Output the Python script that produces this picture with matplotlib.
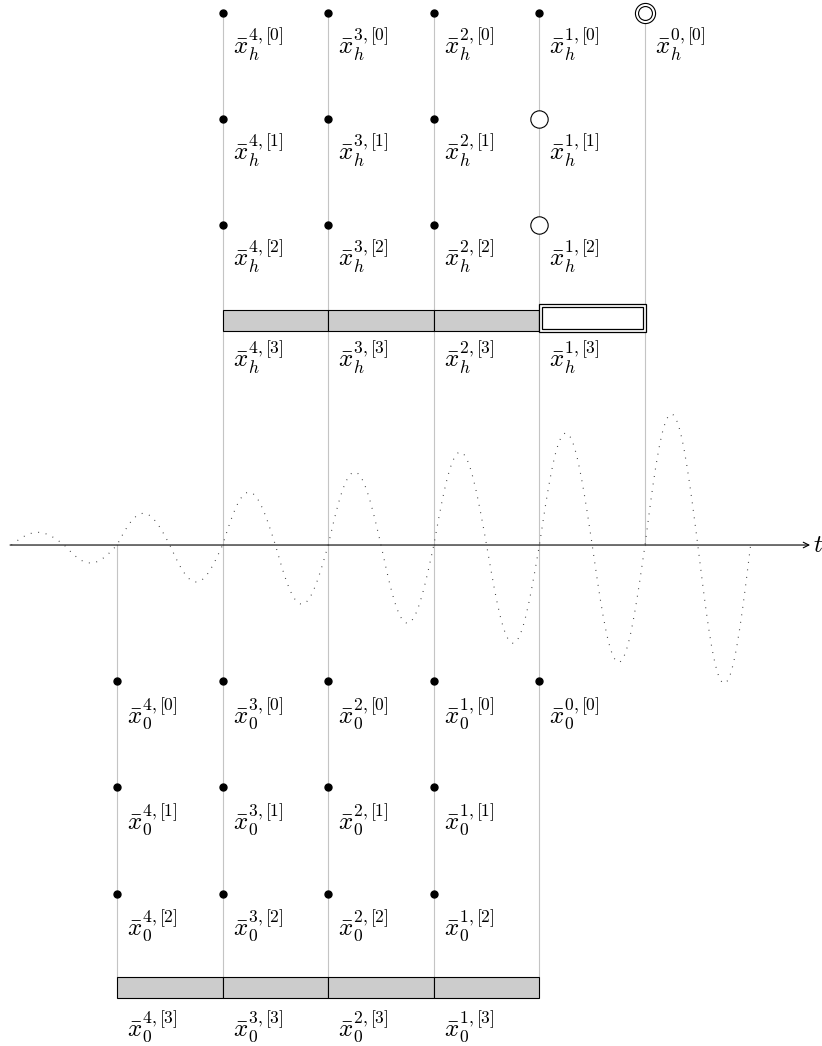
import numpy as np
import matplotlib.pyplot as plt
from matplotlib.patches import Rectangle

plt.rcParams['mathtext.fontset'] = 'cm'

# grid columns (time steps) and their stage superscripts
top_steps = [1, 2, 3, 4, 5]
top_stage = [4, 3, 2, 1, 0]
bot_steps = [0, 1, 2, 3, 4]
bot_stage = [4, 3, 2, 1, 0]
n_rows = 3  # rows [0], [1], [2]; row [3] is the bar

# open (not yet computed) markers in the top group: (stage, row)
open_cells = [(1, 1), (1, 2)]
double_cells = [(0, 0)]
open_bar_stage = [1]

wave_start = -1.0
wave_half = 0.5
wave_amp = [0.12, 0.17, 0.30, 0.35, 0.50, 0.56, 0.69, 0.74,
            0.88, 0.93, 1.06, 1.11, 1.24, 1.31]

# layout (data units = one time step)
top_y0, row_gap = 5.04, 1.005
top_bar = (2.027, 2.225)
top_bar_lab = 1.78
bot_y0 = -1.29
bot_bar = (-4.29, -4.09)
bot_bar_lab = -4.555
lab_dx, lab_dy = 0.095, 0.30
fs = 18

fig = plt.figure(figsize=(8.22, 10.46), dpi=100)
ax = fig.add_axes([0, 0, 1, 1])
ax.set_xlim(-1.108, 6.676)
ax.set_ylim(-4.744, 5.161)
ax.axis('off')

grey = '#c4c4c4'

# ---- top group (h) ----
for t, s in zip(top_steps, top_stage):
    ax.plot([t, t], [top_y0, 0], color=grey, lw=0.8, zorder=1)
    rows = 1 if s == 0 else n_rows
    for j in range(rows):
        y = top_y0 - j * row_gap
        if (s, j) in double_cells:
            ax.plot(t, y, 'o', ms=14.5, mfc='white', mec='black', mew=0.8, zorder=3)
            ax.plot(t, y, 'o', ms=10, mfc='white', mec='black', mew=0.8, zorder=4)
        elif (s, j) in open_cells:
            ax.plot(t, y, 'o', ms=12.5, mfc='white', mec='black', mew=0.8, zorder=3)
        else:
            ax.plot(t, y, 'o', ms=5, color='black', zorder=3)
        ax.text(t + lab_dx, y - lab_dy, r'$\bar{x}_h^{%d,[%d]}$' % (s, j),
                fontsize=fs, ha='left', va='center')
    if s > 0:
        if s in open_bar_stage:
            # double-bordered empty cell
            for inset in (0.0, 0.03):
                ax.add_patch(Rectangle((t - 0.005 + inset, top_bar[0] - 0.01 + inset),
                                       1.015 - 2 * inset, top_bar[1] - top_bar[0] + 0.065 - 2 * inset,
                                       facecolor='white', edgecolor='black', lw=0.9, zorder=2))
        else:
            ax.add_patch(Rectangle((t, top_bar[0]), 1, top_bar[1] - top_bar[0],
                                   facecolor='#cccccc', edgecolor='black', lw=0.8, zorder=2))
        ax.text(t + lab_dx, top_bar_lab, r'$\bar{x}_h^{%d,[3]}$' % s,
                fontsize=fs, ha='left', va='center')

# ---- bottom group (0) ----
for t, s in zip(bot_steps, bot_stage):
    ax.plot([t, t], [0, bot_bar[1]], color=grey, lw=0.8, zorder=1)
    rows = 1 if s == 0 else n_rows
    for j in range(rows):
        y = bot_y0 - j * row_gap
        ax.plot(t, y, 'o', ms=5, color='black', zorder=3)
        ax.text(t + lab_dx, y - lab_dy, r'$\bar{x}_0^{%d,[%d]}$' % (s, j),
                fontsize=fs, ha='left', va='center')
    if s > 0:
        ax.add_patch(Rectangle((t, bot_bar[0]), 1, bot_bar[1] - bot_bar[0],
                               facecolor='#cccccc', edgecolor='black', lw=0.8, zorder=2))
        ax.text(t + lab_dx, bot_bar_lab, r'$\bar{x}_0^{%d,[3]}$' % s,
                fontsize=fs, ha='left', va='center')

# ---- time axis ----
ax.annotate('', xy=(6.563, 0), xytext=(-1.013, 0),
            arrowprops=dict(arrowstyle='->', lw=0.8, color='black',
                            shrinkA=0, shrinkB=0), zorder=2)
ax.text(6.64, 0, r'$t$', fontsize=fs, ha='center', va='center')

# ---- oscillating signal, one half-wave per amplitude ----
xs, ys = [], []
for k, a in enumerate(wave_amp):
    t0 = wave_start + k * wave_half
    tt = np.linspace(t0, t0 + wave_half, 40)
    sign = 1 if k % 2 == 0 else -1
    xs.append(tt)
    ys.append(sign * a * np.sin(np.pi * (tt - t0) / wave_half))
ax.plot(np.concatenate(xs), np.concatenate(ys), color='#333333', lw=0.8,
        linestyle=(0, (0.8, 6)), zorder=2)

fig.savefig('out.png', dpi=100)
